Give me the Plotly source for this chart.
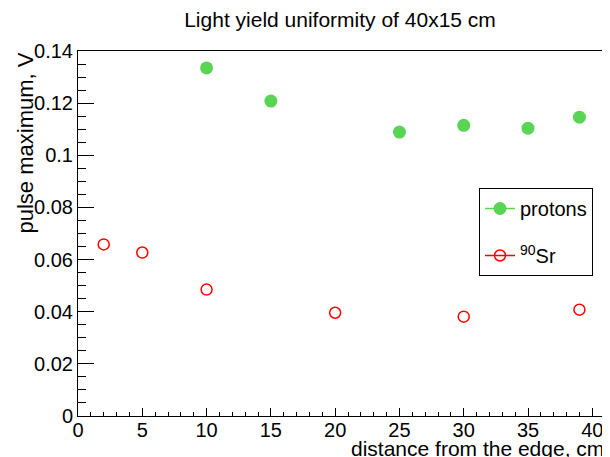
import plotly.graph_objects as go

# data
proton_x = [10, 15, 25, 30, 35, 39]
proton_y = [0.1335, 0.1208, 0.1089, 0.1115, 0.1104, 0.1146]
sr_x = [2, 5, 10, 20, 30, 39]
sr_y = [0.0658, 0.0627, 0.0485, 0.0396, 0.0381, 0.0408]
y_ticks = [0, 0.02, 0.04, 0.06, 0.08, 0.1, 0.12, 0.14]
y_tick_text = ["0", "0.02", "0.04", "0.06", "0.08", "0.1", "0.12", "0.14"]
x_ticks = [0, 5, 10, 15, 20, 25, 30, 35, 40]

GREEN = "#59d454"
RED = "#ff0000"
FONT = "Liberation Sans, Arial, Helvetica, sans-serif"

W, H = 610, 457
OFF = 8  # page body margin offset

fig = go.Figure()
fig.add_trace(go.Scatter(x=proton_x, y=proton_y, mode="markers", showlegend=False,
                         marker=dict(symbol="circle", size=13, color=GREEN)))
fig.add_trace(go.Scatter(x=sr_x, y=sr_y, mode="markers", showlegend=False,
                         marker=dict(symbol="circle-open", size=11, color=RED, line=dict(width=1.5, color=RED))))
# legend entries (ROOT "lp" style)
fig.add_trace(go.Scatter(x=[None], y=[None], mode="lines+markers", name="protons", legendgroup="a",
                         line=dict(color=GREEN, width=1.5),
                         marker=dict(symbol="circle", size=13, color=GREEN)))
fig.add_trace(go.Scatter(x=[None], y=[None], mode="lines+markers", name="<sup>90</sup>Sr", legendgroup="b",
                         line=dict(color=RED, width=1.5),
                         marker=dict(symbol="circle-open", size=11, color=RED, line=dict(width=1.5, color=RED))))

fig.update_layout(
    width=W, height=H,
    margin=dict(l=78 - OFF, r=0, t=51 - OFF, b=H - (416 - OFF), autoexpand=False),
    paper_bgcolor="white", plot_bgcolor="white",
    font=dict(family=FONT, size=20, color="black"),
    title=dict(text="Light yield uniformity of 40x15 cm", x=(340 - OFF) / W, xanchor="center",
               y=1 - (20 - OFF) / H, yanchor="middle", font=dict(family=FONT, size=21, color="black")),
    showlegend=True,
    legend=dict(x=(479 - 78) / 540, y=(416 - 188) / 365, xanchor="left", yanchor="top", bgcolor="white",
                bordercolor="black", borderwidth=1, traceorder="grouped", tracegroupgap=18,
                font=dict(family=FONT, size=20, color="black"), itemwidth=30),
    xaxis=dict(range=[0, 42], automargin=False, showgrid=False, zeroline=False, showline=True,
               linecolor="black", linewidth=1, mirror=True, ticks="inside", ticklen=8, tickcolor="black",
               tickvals=x_ticks, ticktext=[str(v) for v in x_ticks], ticklabelstandoff=-4,
               tickfont=dict(family=FONT, size=20),
               minor=dict(dtick=1, ticks="inside", ticklen=4, tickcolor="black", showgrid=False)),
    yaxis=dict(range=[0, 0.14], automargin=False, showgrid=False, zeroline=False, showline=True,
               linecolor="black", linewidth=1, mirror=False, ticks="inside", ticklen=16, tickcolor="black",
               tickvals=y_ticks, ticktext=y_tick_text, tickfont=dict(family=FONT, size=20),
               minor=dict(dtick=0.005, tick0=0, ticks="inside", ticklen=8, tickcolor="black", showgrid=False)),
    annotations=[
        dict(text="pulse maximum, V", textangle=-90, xref="paper", yref="paper", x=0, y=1,
             xanchor="center", yanchor="top", xshift=-53, showarrow=False,
             font=dict(family=FONT, size=22, color="black")),
        dict(text="distance from the edge, cm", xref="paper", yref="paper", x=(606 - 78) / 540, y=0,
             xanchor="right", yanchor="middle", yshift=-32, showarrow=False,
             font=dict(family=FONT, size=21, color="black")),
    ],
)

fig.write_html("out.html")
